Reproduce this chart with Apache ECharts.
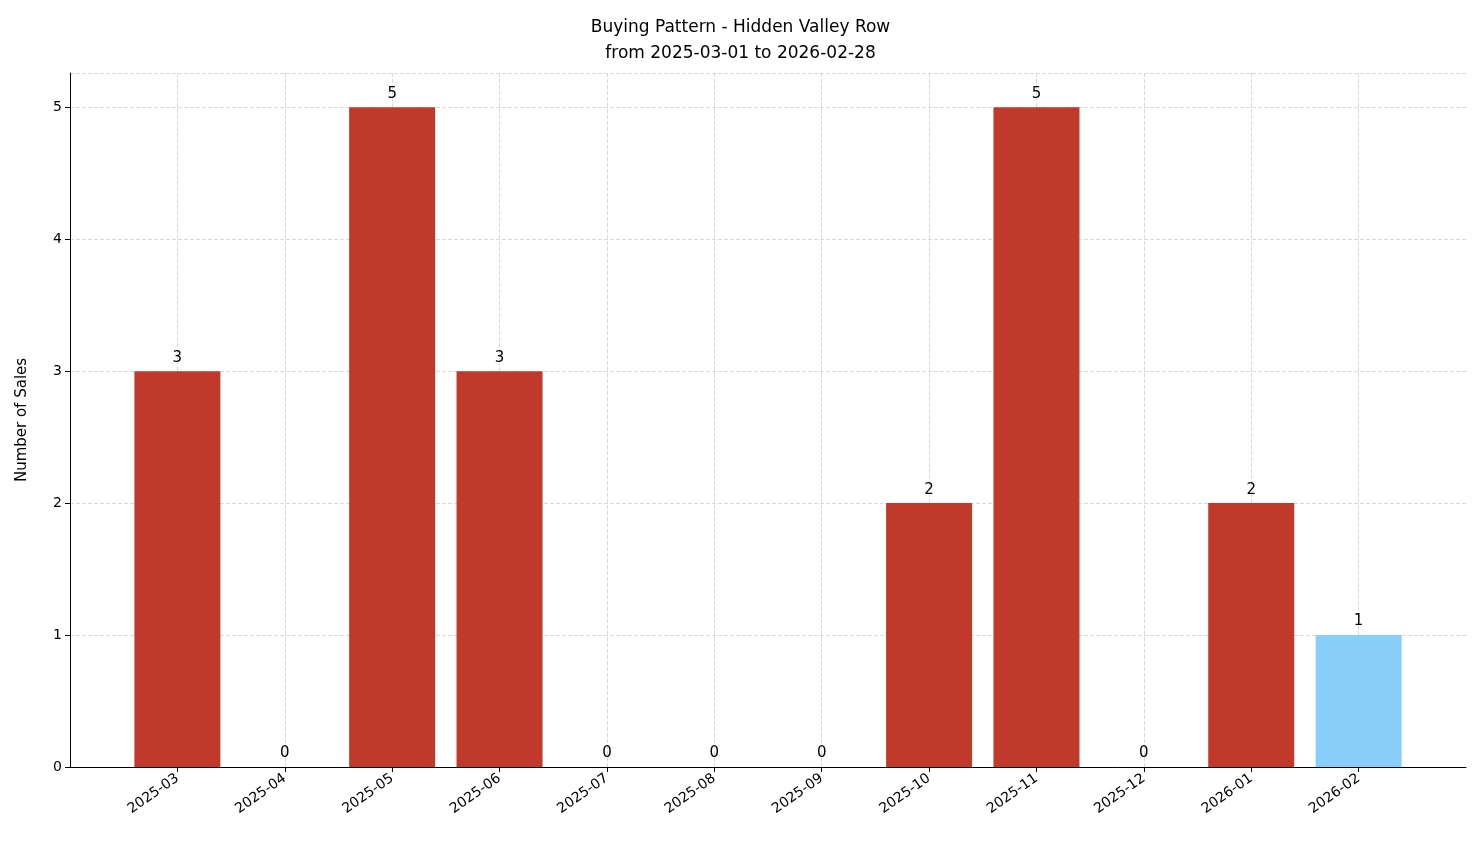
<!DOCTYPE html>
<html><head><meta charset="utf-8">
<script src="https://cdn.jsdelivr.net/npm/echarts@6/dist/echarts.min.js"></script>
<style>html,body{margin:0;padding:0;background:#fff}#c{width:1481px;height:863px}</style>
</head><body><div id="c"></div>
<script>
const categories = ['2025-03','2025-04','2025-05','2025-06','2025-07','2025-08','2025-09','2025-10','2025-11','2025-12','2026-01','2026-02'];
const sales = [3,0,5,3,0,0,0,2,5,0,2,1];
const highlightIndex = 11;
const yTicks = [0,1,2,3,4,5];

const cats = [''].concat(categories, ['']);
const data = [null].concat(sales.map((v,i)=>({value:v,itemStyle:{color:i===highlightIndex?'#87cefa':'#c0392b'}})), [null]);
const ch = echarts.init(document.getElementById('c'));
const F = 'DejaVu Sans';
const isCat = (i,v)=>v!=='';
ch.setOption({
  animation:false,
  textStyle:{fontFamily:F},
  title:{text:'Buying Pattern - Hidden Valley Row\nfrom 2025-03-01 to 2026-02-28',left:'center',top:10,
    textStyle:{fontFamily:F,fontSize:17,fontWeight:'normal',color:'#000',lineHeight:26}},
  grid:{left:70,right:15,top:73,bottom:96},
  xAxis:{type:'category',data:cats,boundaryGap:false,
    axisLine:{lineStyle:{color:'#000'}},
    axisTick:{interval:isCat,length:5,lineStyle:{color:'#000'}},
    axisLabel:{interval:isCat,rotate:35,color:'#000',fontSize:14,fontFamily:F,margin:10},
    splitLine:{show:true,interval:isCat,lineStyle:{type:'dashed',color:'#d9d9d9'}}},
  yAxis:{type:'value',min:yTicks[0],max:5.26,interval:1,
    name:'Number of Sales',nameLocation:'middle',nameGap:40,nameTextStyle:{fontSize:15,color:'#000',fontFamily:F},
    axisLine:{show:true,lineStyle:{color:'#000'}},
    axisTick:{show:true,length:5,lineStyle:{color:'#000'}},
    axisLabel:{color:'#000',fontSize:14,fontFamily:F,showMaxLabel:false},
    splitLine:{lineStyle:{type:'dashed',color:'#d9d9d9'}}},
  series:[{type:'bar',data:data,barWidth:86,
    label:{show:true,position:'top',color:'#000',fontSize:15,fontFamily:F,distance:6}}]
});
</script></body></html>
